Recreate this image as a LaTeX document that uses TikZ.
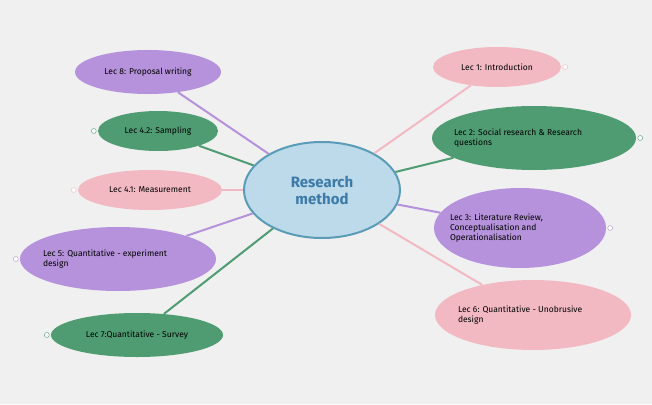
\documentclass[tikz,border=0pt]{standalone}
\usepackage{fontspec}
\setmainfont{Fira Sans}
\usetikzlibrary{shapes.geometric}
\definecolor{bg}{HTML}{F0F0F0}
\definecolor{cfill}{HTML}{BCDAEA}
\definecolor{cdraw}{HTML}{5A9CB8}
\definecolor{ctext}{HTML}{3D7AA8}
\definecolor{pur}{HTML}{B592DB}
\definecolor{grn}{HTML}{4F9C73}
\definecolor{pnk}{HTML}{F2B9C3}
\begin{document}
\begin{tikzpicture}[x=1pt,y=-1pt,
  leaf/.style={ellipse,inner sep=0pt},
  txt/.style={font=\fontsize{8.5}{10}\selectfont,align=flush left,text=black,inner sep=0pt},
  link/.style={line width=2pt},
  endmark/.style={circle,fill=white,minimum size=5pt,inner sep=0pt}]
\fill[bg] (0,0) rectangle (652,404);
\useasboundingbox (0,0) rectangle (652,404);
\node[ellipse,fill=cfill,draw=cdraw,line width=2pt,minimum width=156pt,minimum height=96pt,
  text=ctext,font=\fontsize{15}{17}\selectfont\bfseries,align=center] (c) at (322,190) {Research\\ method};
% left
\node[leaf,fill=pur,minimum width=146pt,minimum height=44pt] (l8) at (148,72) {};
\node[leaf,fill=grn,minimum width=120pt,minimum height=40pt] (l42) at (158,131) {};
\node[leaf,fill=pnk,minimum width=144pt,minimum height=40pt] (l41) at (150,190) {};
\node[leaf,fill=pur,minimum width=196pt,minimum height=64pt] (l5) at (118,259) {};
\node[leaf,fill=grn,minimum width=172pt,minimum height=44pt] (l7) at (137,335) {};
% right
\node[leaf,fill=pnk,minimum width=128pt,minimum height=40pt] (r1) at (497,67) {};
\node[leaf,fill=grn,minimum width=204pt,minimum height=64pt] (r2) at (534,138) {};
\node[leaf,fill=pur,minimum width=172pt,minimum height=80pt] (r3) at (520,228) {};
\node[leaf,fill=pnk,minimum width=196pt,minimum height=70pt] (r6) at (533,315) {};
% texts
\node[txt] (t8) at (l8) {Lec 8: Proposal writing};
\node[txt] (t42) at (l42) {Lec 4.2: Sampling};
\node[txt] (t41) at (l41) {Lec 4.1: Measurement};
\node[txt,text width=150pt] (t5) at (l5) {Lec 5: Quantitative - experiment\\design};
\node[txt] (t7) at (l7) {Lec 7:Quantitative - Survey};
\node[txt] (t1) at (r1) {Lec 1: Introduction};
\node[txt,text width=160pt] (t2) at (r2) {Lec 2: Social research \& Research\\questions};
\node[txt,text width=140pt] (t3) at (r3) {Lec 3: Literature Review,\\Conceptualisation and\\Operationalisation};
\node[txt,text width=150pt] (t6) at (r6) {Lec 6: Quantitative - Unobrusive\\design};
% links
\begin{scope}[on background layer/.style={}]
\end{scope}
\draw[link,pur] (c) -- (l8);
\draw[link,grn] (c) -- (l42);
\draw[link,pnk] (c) -- (l41);
\draw[link,pur] (c) -- (l5);
\draw[link,grn] (c) -- (l7);
\draw[link,pnk] (c) -- (r1);
\draw[link,grn] (c) -- (r2);
\draw[link,pur] (c) -- (r3);
\draw[link,pnk] (c) -- (r6);
% tiny end markers
\foreach \n/\col in {l42/grn,l41/pnk,l5/pur,l7/grn}
  \node[endmark,draw=\col,xshift=-4pt] at (\n.west) {};
\foreach \n/\col in {r1/pnk,r2/grn,r3/pur}
  \node[endmark,draw=\col,xshift=4pt] at (\n.east) {};
\end{tikzpicture}
\end{document}
